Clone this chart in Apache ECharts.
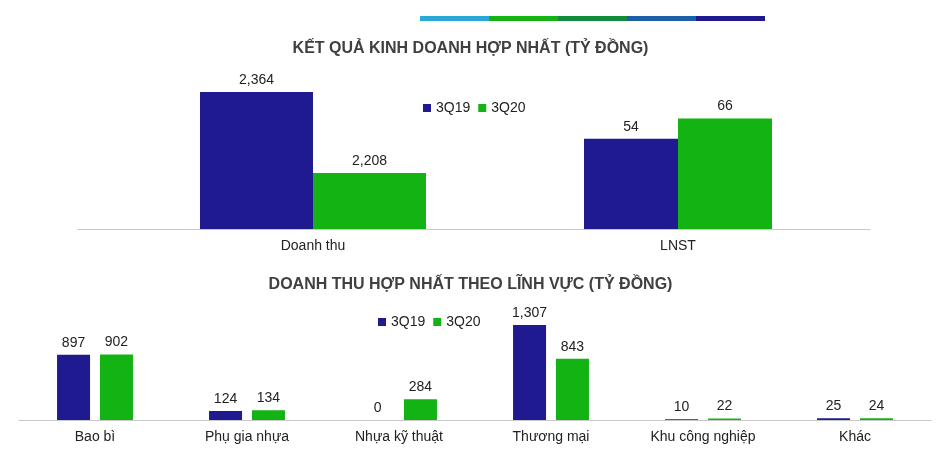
<!DOCTYPE html><html><head><meta charset="utf-8"><script src="https://cdn.jsdelivr.net/npm/echarts@6/dist/echarts.min.js"></script>
<style>body{margin:0}#c{width:941px;height:469px}</style></head><body><div id="c"></div><script>
const topCats1=['Doanh thu'], q19a=[2364], q20a=[2208];
const topCats2=['LNST'], q19b=[54], q20b=[66];
const secCats=['Bao bì','Phụ gia nhựa','Nhựa kỹ thuật','Thương mại','Khu công nghiệp','Khác'];
const sec19=[897,124,0,1307,10,25], sec20=[902,134,284,843,22,24];
const C1='#1f1a8f',C2='#12b312',F='Arial, Liberation Sans, sans-serif';
const lbl={show:true,position:'top',color:'#222',fontSize:14,fontFamily:F,formatter:p=>p.value.toLocaleString('en-US')};
const xa=(i,d)=>({type:'category',gridIndex:i,data:d,axisTick:{show:false},axisLine:{lineStyle:{color:'#c8c8c8'}},axisLabel:{color:'#222',fontSize:14,fontFamily:F,margin:10}});
const ya=(i,min,max)=>({type:'value',gridIndex:i,min,max,show:false,splitLine:{show:false}});
const ch=echarts.init(document.getElementById('c'));
ch.setOption({animation:false,
graphic:[['#29a8d6',420],['#12b312',489],['#138a3c',558],['#1a5fa8',627],['#1f1a8f',696]].map(([c,x])=>({type:'rect',shape:{x,y:16,width:69,height:5},style:{fill:c}})),
title:[{text:'KẾT QUẢ KINH DOANH HỢP NHẤT (TỶ ĐỒNG)',left:'center',top:36,textStyle:{fontSize:16,fontWeight:'bold',color:'#404040',fontFamily:F}},
{text:'DOANH THU HỢP NHẤT THEO LĨNH VỰC (TỶ ĐỒNG)',left:'center',top:272,textStyle:{fontSize:16,fontWeight:'bold',color:'#404040',fontFamily:F}}],
legend:[{data:['3Q19','3Q20'],left:418,top:96,itemWidth:8,itemHeight:8,icon:'rect',textStyle:{fontSize:14,fontFamily:F,color:'#222'}},
{data:['3Q19','3Q20'],left:373,top:310,itemWidth:8,itemHeight:8,icon:'rect',textStyle:{fontSize:14,fontFamily:F,color:'#222'}}],
grid:[{left:78,width:470,top:50,height:179},{left:486,width:384,top:50,height:179},{left:19,width:912,top:300,height:120}],
xAxis:[xa(0,topCats1),xa(1,topCats2),xa(2,secCats)],
yAxis:[ya(0,2100,2445),ya(1,0,107),ya(2,0,1651)],
series:[
{name:'3Q19',type:'bar',xAxisIndex:0,yAxisIndex:0,data:q19a,barWidth:113,barGap:'0%',itemStyle:{color:C1},label:lbl},
{name:'3Q20',type:'bar',xAxisIndex:0,yAxisIndex:0,data:q20a,barWidth:113,barGap:'0%',itemStyle:{color:C2},label:lbl},
{name:'3Q19',type:'bar',xAxisIndex:1,yAxisIndex:1,data:q19b,barWidth:94,barGap:'0%',itemStyle:{color:C1},label:lbl},
{name:'3Q20',type:'bar',xAxisIndex:1,yAxisIndex:1,data:q20b,barWidth:94,barGap:'0%',itemStyle:{color:C2},label:lbl},
{name:'3Q19',type:'bar',xAxisIndex:2,yAxisIndex:2,data:sec19,barWidth:33,barGap:'30%',itemStyle:{color:C1},label:lbl},
{name:'3Q20',type:'bar',xAxisIndex:2,yAxisIndex:2,data:sec20,barWidth:33,barGap:'30%',itemStyle:{color:C2},label:lbl}]});
</script></body></html>
